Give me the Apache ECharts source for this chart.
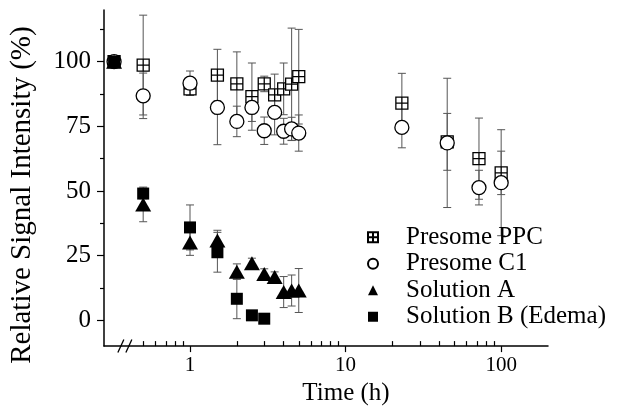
<!DOCTYPE html>
<html>
<head>
<meta charset="utf-8">
<script src="https://cdn.jsdelivr.net/npm/echarts@6/dist/echarts.min.js"></script>
<style>html,body{margin:0;padding:0;background:#fff;}#c{width:634px;height:411px;}</style>
</head>
<body>
<div id="c"></div>
<script>
// Time points (h); the first point (t = 0) sits on the broken part of the log axis
const timeH = [0.325, 0.5, 1, 1.5, 2, 2.5, 3, 3.5, 4, 4.5, 5, 23, 45, 72, 100];
const ppcMean = [100, 98.7, 89.5, 94.8, 91.4, 86.5, 91.4, 87.2, 89.5, 91.3, 94.2, 84, 69, 62.5, 57];
const ppcErr  = [0, 19.3, 2.5, 10, 12.4, 13, 3, 8, 10, 21.7, 18.3, 11.5, 11, 15.7, 8.4];
const c1Mean  = [100, 86.8, 91.7, 82.3, 76.9, 82.3, 73.3, 80.4, 73.1, 74, 72.4, 74.6, 68.6, 51.3, 53.2];
const c1Err   = [0, 8.8, 4.7, 14.4, 5.9, 5.4, 5.3, 8.7, 5, 4.5, 7, 7.9, 25, 6.7, 20.5];
const solATime = [0.325, 0.5, 1, 1.5, 2, 2.5, 3, 3.5, 4, 4.5, 5];
const solAMean = [100, 44.8, 30.1, 30.8, 18.8, 22, 17.9, 16.7, 10.9, 11.5, 11.5];
const solAErr  = [0, 6.7, 5, 4, 3, 2, 2, 2, 6, 6, 8.5];
const solBTime = [0.325, 0.5, 1, 1.5, 2, 2.5, 3];
const solBMean = [100, 49, 35.9, 26.3, 8.3, 1.9, 0.6];
const solBErr  = [0, 2, 8.7, 7.7, 7.7, 1, 1];
const seriesNames = ['Presome PPC', 'Presome C1', 'Solution A', 'Solution B (Edema)'];
const xMin = 0.28, xMax = 200;
const xMajorTicks = [1, 10, 100];
const xMinorTicks = [0.5, 0.6, 0.7, 0.8, 0.9, 2, 3, 4, 5, 6, 7, 8, 9, 20, 30, 40, 50, 60, 70, 80, 90];
const yMajorTicks = [0, 25, 50, 75, 100];
const yMinorTicks = [12.5, 37.5, 62.5, 87.5, 112.5];
const axisBreakAt = 0.387;

const FONT = '"Liberation Serif", "DejaVu Serif", serif';
const chart = echarts.init(document.getElementById('c'), null, {renderer: 'canvas'});

function pts(t, m) { return t.map((x, i) => [x, m[i]]); }
function errs(t, m, e) {
  const out = [];
  t.forEach((x, i) => { if (e[i] > 0) out.push([x, m[i] - e[i], m[i] + e[i]]); });
  return out;
}
function errRender(params, api) {
  const x = api.value(0);
  const a = api.coord([x, api.value(1)]);
  const b = api.coord([x, api.value(2)]);
  const w = 4;
  const st = {stroke: '#555', lineWidth: 1};
  return {type: 'group', children: [
    {type: 'line', shape: {x1: a[0], y1: a[1], x2: b[0], y2: b[1]}, style: st},
    {type: 'line', shape: {x1: a[0] - w, y1: a[1], x2: a[0] + w, y2: a[1]}, style: st},
    {type: 'line', shape: {x1: b[0] - w, y1: b[1], x2: b[0] + w, y2: b[1]}, style: st}
  ]};
}
function errSeries(t, m, e) {
  return {type: 'custom', renderItem: errRender, data: errs(t, m, e),
    xAxisIndex: 0, yAxisIndex: 0, encode: {x: 0, y: [1, 2]}, z: 1, silent: true};
}
const ppcPath = 'path://M0,0H10V10H0Z M5,0V10 M0,5H10';
const lg = Math.log10;

const option = {
  animation: false,
  backgroundColor: '#fff',
  grid: {left: 100, right: 86, top: 10, bottom: 62, containLabel: false},
  legend: {
    orient: 'vertical', left: 362, top: 219, itemGap: 0,
    itemWidth: 10, itemHeight: 10,
    data: seriesNames,
    textStyle: {fontFamily: FONT, fontSize: 25, color: '#000', lineHeight: 26.5, padding: [0, 0, 0, 23]}
  },
  xAxis: [{
    type: 'log', logBase: 10, min: xMin, max: xMax,
    name: 'Time (h)', nameLocation: 'middle', nameGap: 29,
    nameTextStyle: {fontFamily: FONT, fontSize: 25, color: '#000', padding: [0, 0, 0, 40]},
    axisLine: {show: true, onZero: false, lineStyle: {color: '#000', width: 1.5}},
    axisTick: {show: false},
    axisLabel: {show: true, customValues: xMajorTicks, margin: 9, fontFamily: FONT, fontSize: 21, color: '#000',
      formatter: v => String(Math.round(v))},
    minorTick: {show: false}, splitLine: {show: false}
  }, {
    // major tick marks (log10 positions of the same axis range)
    type: 'value', min: lg(xMin), max: lg(xMax), position: 'bottom',
    axisLine: {show: false, onZero: false},
    axisTick: {show: true, inside: false, length: 6, customValues: xMajorTicks.map(lg), lineStyle: {color: '#000', width: 1.2}},
    axisLabel: {show: false}, splitLine: {show: false}
  }, {
    // minor tick marks
    type: 'value', min: lg(xMin), max: lg(xMax), position: 'bottom',
    axisLine: {show: false, onZero: false},
    axisTick: {show: true, inside: true, length: 5, customValues: xMinorTicks.map(lg), lineStyle: {color: '#000', width: 1.2}},
    axisLabel: {show: false}, splitLine: {show: false}
  }],
  yAxis: [{
    type: 'value', min: -10, max: 120,
    name: 'Relative Signal Intensity (%)', nameLocation: 'middle', nameGap: 67,
    nameTextStyle: {fontFamily: FONT, fontSize: 29, color: '#000', padding: [0, 34, 0, 0]},
    axisLine: {show: true, onZero: false, lineStyle: {color: '#000', width: 1.5}},
    axisTick: {show: true, inside: false, length: 7, customValues: yMajorTicks, lineStyle: {color: '#000', width: 1.2}},
    axisLabel: {show: true, customValues: yMajorTicks, margin: 13, fontFamily: FONT, fontSize: 25, color: '#000'},
    splitLine: {show: false}
  }, {
    type: 'value', min: -10, max: 120, position: 'left',
    axisLine: {show: false, onZero: false},
    axisTick: {show: true, inside: false, length: 4, customValues: yMinorTicks, lineStyle: {color: '#000', width: 1.2}},
    axisLabel: {show: false}, splitLine: {show: false}
  }],
  series: [
    errSeries(timeH, ppcMean, ppcErr),
    errSeries(timeH, c1Mean, c1Err),
    errSeries(solATime, solAMean, solAErr),
    errSeries(solBTime, solBMean, solBErr),
    {name: seriesNames[0], type: 'scatter', data: pts(timeH, ppcMean), symbol: ppcPath, symbolSize: 12, z: 3,
      itemStyle: {color: '#fff', borderColor: '#000', borderWidth: 1.3, opacity: 1}},
    {name: seriesNames[1], type: 'scatter', data: pts(timeH, c1Mean), symbol: 'circle', symbolSize: 14, z: 4,
      itemStyle: {color: '#fff', borderColor: '#000', borderWidth: 1.3, opacity: 1}},
    {name: seriesNames[3], type: 'scatter', data: pts(solBTime, solBMean), symbol: 'rect', symbolSize: 12, z: 5,
      itemStyle: {color: '#000', opacity: 1}},
    {name: seriesNames[2], type: 'scatter', data: pts(solATime, solAMean), symbol: 'triangle', symbolSize: [16, 14], z: 6,
      itemStyle: {color: '#000', opacity: 1}}
  ]
};
chart.setOption(option);

// Axis-break mark "//" on the x axis, positioned through the axis scale
const bx = chart.convertToPixel({xAxisIndex: 0}, axisBreakAt);
const by = chart.convertToPixel({yAxisIndex: 0}, -10);
chart.setOption({graphic: [
  {type: 'line', shape: {x1: bx - 8, y1: by + 6.5, x2: bx - 2, y2: by - 6.5}, style: {stroke: '#000', lineWidth: 1.3}, z: 10},
  {type: 'line', shape: {x1: bx, y1: by + 6.5, x2: bx + 6, y2: by - 6.5}, style: {stroke: '#000', lineWidth: 1.3}, z: 10}
]});
</script>
</body>
</html>
